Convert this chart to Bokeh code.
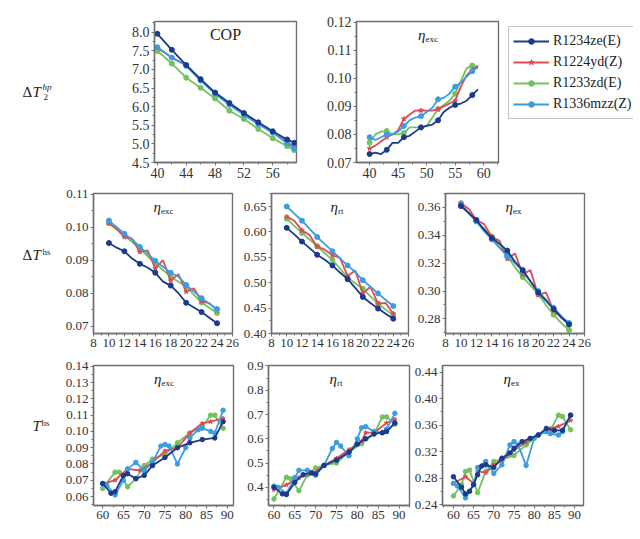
from bokeh.plotting import figure
from bokeh.layouts import row, column
from bokeh.models import (Range1d, Label, Legend, LegendItem, NumeralTickFormatter,
                          SingleIntervalTicker)
from bokeh.embed import file_html
from bokeh.resources import INLINE

SERIES = ["R1234ze(E)", "R1224yd(Z)", "R1233zd(E)", "R1336mzz(Z)"]
COLORS = ["#1b3a8c", "#e04b52", "#72c25e", "#3b9de0"]
MARKERS = ["circle", "star", "circle", "circle"]
DRAW_ORDER = [2, 1, 3, 0]
SERIF = "Liberation Serif"

# ---- Row 1: vs dT2_hp ----
cop_x = [40, 42, 44, 46, 48, 50, 52, 54, 56, 58, 59]
cop_ze = [7.96, 7.53, 7.12, 6.74, 6.38, 6.10, 5.83, 5.58, 5.34, 5.12, 5.03]
cop_yd = [7.58, 7.32, 7.12, 6.72, 6.36, 6.06, 5.80, 5.55, 5.31, 5.05, 4.92]
cop_zd = [7.50, 7.16, 6.78, 6.51, 6.22, 5.89, 5.67, 5.40, 5.15, 4.94, 4.83]
cop_mzz = [7.60, 7.32, 7.10, 6.70, 6.35, 6.05, 5.78, 5.53, 5.30, 5.02, 4.88]

exc1_x = list(range(40, 60))
exc1_ze = [0.0730, 0.0735, 0.0730, 0.0745, 0.0770, 0.0770, 0.0790, 0.0795, 0.0810, 0.0825,
           0.0830, 0.0835, 0.0850, 0.0880, 0.0895, 0.0905, 0.0910, 0.0920, 0.0940, 0.0960]
exc1_yd = [0.0750, 0.0760, 0.0775, 0.0790, 0.0800, 0.0815, 0.0855, 0.0870, 0.0885, 0.0885,
           0.0885, 0.0885, 0.0890, 0.0900, 0.0910, 0.0920, 0.0970, 0.1010, 0.1030, 0.1045]
exc1_zd = [0.0770, 0.0800, 0.0810, 0.0812, 0.0800, 0.0800, 0.0805, 0.0825, 0.0825, 0.0825,
           0.0830, 0.0860, 0.0890, 0.0905, 0.0920, 0.0945, 0.0990, 0.1035, 0.1045, 0.1035]
exc1_mzz = [0.0790, 0.0780, 0.0790, 0.0800, 0.0800, 0.0810, 0.0830, 0.0850, 0.0860, 0.0865,
            0.0880, 0.0895, 0.0925, 0.0930, 0.0945, 0.0970, 0.0985, 0.1005, 0.1025, 0.1040]

# ---- Row 2: vs dT_hs ----
hs_x = list(range(10, 25))
exc2_ze = [0.0952, 0.0938, 0.0927, 0.0905, 0.0889, 0.0878, 0.0862, 0.0835, 0.0823, 0.0800,
           0.0771, 0.0757, 0.0743, 0.0726, 0.0709]
exc2_yd = [0.1012, 0.0995, 0.0970, 0.0965, 0.0925, 0.0930, 0.0875, 0.0900, 0.0838, 0.0858,
           0.0805, 0.0815, 0.0775, 0.0770, 0.0748]
exc2_zd = [0.1012, 0.0993, 0.0975, 0.0955, 0.0935, 0.0912, 0.0890, 0.0870, 0.0850, 0.0835,
           0.0820, 0.0795, 0.0772, 0.0756, 0.0740]
exc2_mzz = [0.1020, 0.1000, 0.0980, 0.0963, 0.0940, 0.0920, 0.0898, 0.0880, 0.0862, 0.0850,
            0.0825, 0.0805, 0.0785, 0.0768, 0.0752]

rt2_ze = [0.608, 0.595, 0.581, 0.568, 0.555, 0.545, 0.534, 0.520, 0.507, 0.490, 0.472, 0.460, 0.449, 0.439, 0.429]
rt2_yd = [0.630, 0.622, 0.603, 0.594, 0.571, 0.565, 0.554, 0.549, 0.513, 0.524, 0.479, 0.492, 0.459, 0.460, 0.439]
rt2_zd = [0.626, 0.612, 0.598, 0.585, 0.572, 0.558, 0.545, 0.528, 0.510, 0.499, 0.488, 0.473, 0.459, 0.447, 0.436]
rt2_mzz = [0.650, 0.636, 0.622, 0.606, 0.590, 0.576, 0.562, 0.548, 0.534, 0.521, 0.505, 0.492, 0.479, 0.466, 0.454]

ex2_ze = [0.361, 0.356, 0.351, 0.344, 0.338, 0.334, 0.329, 0.321, 0.315, 0.307, 0.299, 0.293, 0.287, 0.281, 0.276]
ex2_yd = [0.363, 0.359, 0.351, 0.348, 0.339, 0.336, 0.323, 0.327, 0.312, 0.315, 0.297, 0.299, 0.286, 0.281, 0.276]
ex2_zd = [0.363, 0.356, 0.350, 0.345, 0.339, 0.332, 0.325, 0.317, 0.310, 0.304, 0.298, 0.290, 0.283, 0.277, 0.272]
ex2_mzz = [0.362, 0.356, 0.350, 0.343, 0.337, 0.331, 0.325, 0.320, 0.314, 0.307, 0.300, 0.294, 0.288, 0.282, 0.277]

# ---- Row 3: vs T_hs ----
exc3_ze_x = [60, 62, 63, 65, 66, 68, 70, 72, 75, 78, 81, 84, 87, 89]
exc3_ze = [0.068, 0.062, 0.063, 0.073, 0.074, 0.071, 0.073, 0.079, 0.084, 0.090, 0.093, 0.095, 0.096, 0.106]
exc3_yd_x = [60, 63, 66, 69, 72, 75, 78, 81, 84, 86, 89]
exc3_yd = [0.068, 0.070, 0.077, 0.076, 0.081, 0.088, 0.090, 0.099, 0.105, 0.106, 0.108]
exc3_zd_x = [60, 63, 64, 66, 68, 70, 72, 75, 78, 81, 84, 86, 87, 89]
exc3_zd = [0.065, 0.075, 0.075, 0.066, 0.071, 0.079, 0.083, 0.086, 0.093, 0.099, 0.103, 0.110, 0.110, 0.102]
exc3_mzz_x = [60, 61, 63, 65, 66, 68, 70, 72, 74, 75, 76, 78, 80, 81, 83, 84, 86, 87, 89]
exc3_mzz = [0.068, 0.067, 0.061, 0.070, 0.077, 0.081, 0.076, 0.081, 0.091, 0.092, 0.091, 0.080,
            0.090, 0.096, 0.101, 0.102, 0.100, 0.099, 0.113]

rt3_ze_x = [60, 62, 63, 65, 67, 69, 70, 72, 75, 78, 80, 82, 84, 86, 87, 89]
rt3_ze = [0.400, 0.373, 0.370, 0.420, 0.452, 0.460, 0.455, 0.490, 0.512, 0.545, 0.578, 0.600, 0.620, 0.625, 0.630, 0.665]
rt3_yd_x = [60, 63, 66, 69, 72, 75, 78, 81, 82, 84, 87, 89]
rt3_yd = [0.390, 0.410, 0.440, 0.455, 0.490, 0.520, 0.555, 0.590, 0.625, 0.625, 0.665, 0.680]
rt3_zd_x = [60, 63, 64, 66, 68, 70, 72, 75, 78, 81, 84, 86, 87, 89]
rt3_zd = [0.352, 0.441, 0.435, 0.386, 0.450, 0.480, 0.490, 0.500, 0.545, 0.580, 0.620, 0.690, 0.690, 0.660]
rt3_mzz_x = [60, 61, 63, 65, 66, 68, 70, 72, 74, 75, 76, 78, 80, 81, 82, 84, 86, 87, 89]
rt3_mzz = [0.405, 0.400, 0.375, 0.440, 0.470, 0.470, 0.450, 0.490, 0.560, 0.585, 0.570, 0.530,
           0.600, 0.645, 0.650, 0.630, 0.625, 0.640, 0.705]

ex3_ze_x = [60, 62, 63, 64, 65, 66, 67, 68, 70, 72, 74, 75, 77, 79, 81, 83, 85, 87, 89]
ex3_ze = [0.282, 0.266, 0.256, 0.260, 0.270, 0.285, 0.298, 0.300, 0.296, 0.310, 0.318, 0.325,
          0.335, 0.340, 0.345, 0.355, 0.352, 0.352, 0.375]
ex3_yd_x = [60, 63, 65, 66, 68, 70, 72, 75, 78, 81, 84, 86, 89]
ex3_yd = [0.272, 0.282, 0.272, 0.290, 0.288, 0.300, 0.306, 0.322, 0.334, 0.345, 0.355, 0.358, 0.367]
ex3_zd_x = [60, 62, 63, 64, 66, 68, 70, 72, 75, 78, 81, 84, 86, 87, 89]
ex3_zd = [0.253, 0.270, 0.290, 0.292, 0.258, 0.290, 0.305, 0.308, 0.314, 0.330, 0.345, 0.352, 0.375, 0.373, 0.353]
ex3_mzz_x = [60, 61, 63, 65, 66, 68, 70, 72, 74, 75, 76, 78, 80, 81, 83, 84, 86, 87, 89]
ex3_mzz = [0.272, 0.268, 0.250, 0.270, 0.296, 0.305, 0.287, 0.300, 0.330, 0.335, 0.330, 0.299,
           0.340, 0.345, 0.350, 0.347, 0.345, 0.350, 0.375]

AXIS_COLOR = "#707070"
NAN = float("nan")


def panel(w, h, bl, br, bt, bb, xr, yr, xint, yint, xfmt, yfmt, fs):
    p = figure(width=w, height=h, x_range=Range1d(*xr), y_range=Range1d(*yr),
               output_backend="svg", toolbar_location=None,
               min_border_left=bl, min_border_right=br, min_border_top=bt, min_border_bottom=bb)
    p.grid.visible = False
    p.outline_line_color = AXIS_COLOR
    p.outline_line_width = 1.4
    p.xaxis.ticker = SingleIntervalTicker(interval=xint, num_minor_ticks=2)
    p.yaxis.ticker = SingleIntervalTicker(interval=yint, num_minor_ticks=2)
    p.xaxis.formatter = NumeralTickFormatter(format=xfmt)
    p.yaxis.formatter = NumeralTickFormatter(format=yfmt)
    for ax in (p.xaxis[0], p.yaxis[0]):
        ax.axis_line_color = AXIS_COLOR
        ax.axis_line_width = 1.4
        ax.major_tick_in = 0
        ax.major_tick_out = 3
        ax.minor_tick_in = 0
        ax.minor_tick_out = 2
        ax.major_tick_line_color = AXIS_COLOR
        ax.minor_tick_line_color = AXIS_COLOR
        ax.major_label_text_font = SERIF
        ax.major_label_text_font_size = fs
        ax.major_label_text_color = "#333333"
        ax.major_label_standoff = 2
    return p


def draw(p, xs, ys, every, size=5):
    for i in DRAW_ORDER:
        x, y = xs[i], ys[i]
        p.line(x, y, color=COLORS[i], line_width=1.8)
        p.scatter(x[::every], y[::every], marker=MARKERS[i], size=size,
                  color=COLORS[i], line_width=1)


def title_eta(p, xr, yr, sub):
    xm = (xr[0] + xr[1]) / 2
    p.add_layout(Label(x=xm, y=yr[1], text="η", text_font=SERIF, text_font_style="italic",
                       text_font_size="15px", text_align="right", text_baseline="top",
                       x_offset=-2, y_offset=-5, text_color="#222222"))
    p.add_layout(Label(x=xm, y=yr[1], text=sub, text_font=SERIF,
                       text_font_size="9px", text_align="left", text_baseline="top",
                       x_offset=-2, y_offset=-12, text_color="#222222"))


def blank(w, h, xr, yr, top=0):
    p = figure(width=w, height=h, x_range=Range1d(*xr), y_range=Range1d(*yr),
               output_backend="svg", toolbar_location=None,
               min_border_left=0, min_border_right=0, min_border_top=top, min_border_bottom=0,
               x_axis_location=None, y_axis_location=None)
    p.grid.visible = False
    p.outline_line_color = None
    return p


def row_label(w, h, parts):
    p = blank(w, h, (0, w), (0, h))
    for (t, x, y, fs, style) in parts:
        p.add_layout(Label(x=x, y=y, text=t, text_font=SERIF, text_font_size=fs,
                           text_font_style=style, text_baseline="middle", text_align="left",
                           text_color="#222222"))
    return p


# ---------- Row 1 ----------
H1 = 184
lab1 = row_label(108, H1, [("Δ", 22, 92, "15px", "normal"), ("T", 32, 92, "15px", "italic"),
                           ("hp", 42, 98, "9px", "italic"), ("2", 43, 86, "9px", "normal")])

xr, yr = (39.6, 59.3), (4.5, 8.29)
p1 = panel(200, H1, 46, 12, 21, 22, xr, yr, 4, 0.5, "0", "0.0", "14px")
draw(p1, [cop_x] * 4, [cop_ze, cop_yd, cop_zd, cop_mzz], 1)
p1.add_layout(Label(x=(xr[0] + xr[1]) / 2, y=yr[1], text="COP", text_font=SERIF,
                    text_font_size="16px", text_align="center", text_baseline="top",
                    y_offset=-4, text_color="#222222"))

xr, yr = (37.7, 62.6), (0.07, 0.1202)
p2 = panel(195, H1, 48, 5, 21, 22, xr, yr, 5, 0.01, "0", "0.00", "14px")
draw(p2, [exc1_x] * 4, [exc1_ze, exc1_yd, exc1_zd, exc1_mzz], 3)
title_eta(p2, xr, yr, "exc")

# legend panel (key glyphs only)
leg = blank(130, H1, (0, 1), (0, 1), top=8)
items = []
for i, name in enumerate(SERIES):
    lr = leg.line([NAN], [NAN], color=COLORS[i], line_width=2)
    sr = leg.scatter([NAN], [NAN], marker=MARKERS[i], color=COLORS[i], size=5)
    items.append(LegendItem(label=name, renderers=[lr, sr]))
legend = Legend(items=items, location="top_left", margin=5, padding=4, spacing=1,
                glyph_width=36, glyph_height=14, label_height=20, label_standoff=4,
                label_text_font=SERIF, label_text_font_size="14px", label_text_color="#222222",
                border_line_color="#8a8a8a", border_line_width=1, background_fill_alpha=1)
leg.add_layout(legend, "center")

# ---------- Row 2 ----------
H2 = 171
lab2 = row_label(53, H2, [("Δ", 22, 96, "15px", "normal"), ("T", 32, 96, "15px", "italic"),
                          ("hs", 42, 100, "9px", "normal")])

xr, yr = (8, 26), (0.0678, 0.1102)
p3 = panel(187, H2, 40, 8, 9, 22, xr, yr, 2, 0.01, "0", "0.00", "13px")
draw(p3, [hs_x] * 4, [exc2_ze, exc2_yd, exc2_zd, exc2_mzz], 2)
title_eta(p3, xr, yr, "exc")

xr, yr = (8, 26), (0.40, 0.6756)
p4 = panel(174, H2, 28, 6, 9, 22, xr, yr, 2, 0.05, "0", "0.00", "13px")
draw(p4, [hs_x] * 4, [rt2_ze, rt2_yd, rt2_zd, rt2_mzz], 2)
title_eta(p4, xr, yr, "rt")

xr, yr = (8, 26), (0.2695, 0.370)
p5 = panel(180, H2, 28, 10, 9, 22, xr, yr, 2, 0.02, "0", "0.00", "13px")
draw(p5, [hs_x] * 4, [ex2_ze, ex2_yd, ex2_zd, ex2_mzz], 2)
title_eta(p5, xr, yr, "ex")

# ---------- Row 3 ----------
H3 = 176
lab3 = row_label(53, H3, [("T", 32, 100, "15px", "italic"), ("hs", 41, 104, "9px", "normal")])

xr, yr = (57.8, 91.5), (0.0545, 0.1405)
p6 = panel(187, H3, 40, 7, 10, 26, xr, yr, 5, 0.01, "0", "0.00", "13px")
draw(p6, [exc3_ze_x, exc3_yd_x, exc3_zd_x, exc3_mzz_x], [exc3_ze, exc3_yd, exc3_zd, exc3_mzz], 1, 4.5)
title_eta(p6, xr, yr, "exc")

xr, yr = (58.7, 92.5), (0.325, 0.902)
p7 = panel(171, H3, 28, 2, 10, 26, xr, yr, 5, 0.1, "0", "0.0", "13px")
draw(p7, [rt3_ze_x, rt3_yd_x, rt3_zd_x, rt3_mzz_x], [rt3_ze, rt3_yd, rt3_zd, rt3_mzz], 1, 4.5)
title_eta(p7, xr, yr, "rt")

xr, yr = (57.3, 92.2), (0.2385, 0.450)
p8 = panel(182, H3, 30, 10, 10, 26, xr, yr, 5, 0.04, "0", "0.00", "13px")
draw(p8, [ex3_ze_x, ex3_yd_x, ex3_zd_x, ex3_mzz_x], [ex3_ze, ex3_yd, ex3_zd, ex3_mzz], 1, 4.5)
title_eta(p8, xr, yr, "ex")

layout = column(row(lab1, p1, p2, leg), row(lab2, p3, p4, p5), row(lab3, p6, p7, p8))

with open("out.html", "w") as f:
    f.write(file_html(layout, INLINE))
